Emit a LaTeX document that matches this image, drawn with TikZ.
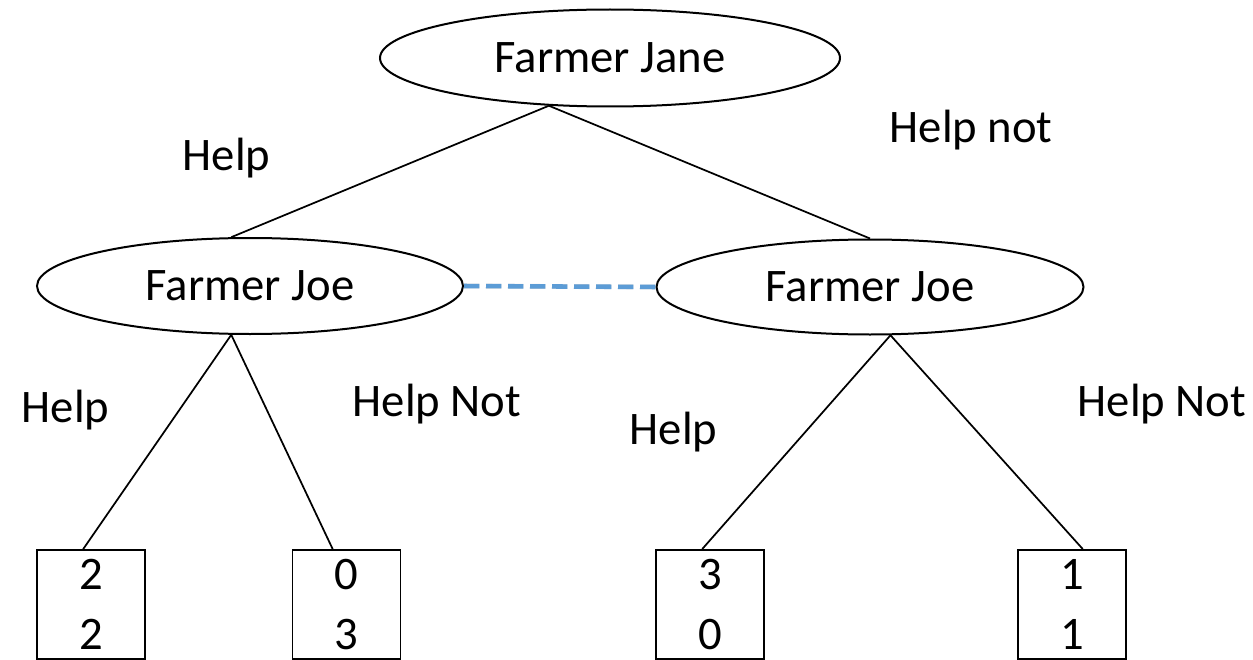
\documentclass[tikz,border=0pt]{standalone}
\usepackage{fontspec}
\setmainfont{Carlito}
\usetikzlibrary{shapes.geometric}

\definecolor{infoblue}{rgb}{0.36,0.61,0.84}

\begin{document}
\begin{tikzpicture}[x=0.75pt,y=0.75pt,yscale=-1,xscale=1,
  every node/.style={font=\fontsize{35}{45}\selectfont},
  player/.style={draw,ellipse,line width=1.5pt,inner sep=0pt},
  payoff/.style={draw,rectangle,line width=1.4pt,minimum width=81pt,minimum height=81.75pt,align=center,inner sep=0pt},
  branch/.style={line width=1.3pt}]
\useasboundingbox (0,0) rectangle (1253,660);

%Shape: Ellipse [id:fj] 
\node [player,minimum width=345pt,minimum height=72.75pt] (fj) at (610,58) {Farmer Jane};
%Shape: Ellipse [id:jl] 
\node [player,minimum width=319.5pt,minimum height=72pt] (jl) at (250,286) {Farmer Joe};
%Shape: Ellipse [id:jr] 
\node [player,minimum width=320.25pt,minimum height=71.25pt] (jr) at (870,287) {Farmer Joe};

%Shape: Rectangle [id:b1] 
\node [payoff] (b1) at (91,604.5) {2\\2};
%Shape: Rectangle [id:b2] 
\node [payoff] (b2) at (346.5,604.5) {0\\3};
%Shape: Rectangle [id:b3] 
\node [payoff] (b3) at (710,604.5) {3\\0};
%Shape: Rectangle [id:b4] 
\node [payoff] (b4) at (1072,604.5) {1\\1};

%Straight Lines [id:jane-help] 
\draw [branch] (fj.-142) -- (jl.111) ;
%Straight Lines [id:jane-helpnot] 
\draw [branch] (fj.-142) -- (jr.north) ;
%Straight Lines [id:joe-left] 
\draw [branch] (jl.-111) -- (b1.98) ;
\draw [branch] (jl.-111) -- (b2.104) ;
%Straight Lines [id:joe-right] 
\draw [branch] (jr.-67) -- (b3.98) ;
\draw [branch] (jr.-67) -- (b4.79) ;

%Information set 
\draw [black!30,opacity=0.5,line width=3.6pt,dash pattern=on 11.5pt off 5pt,yshift=-2pt] (jl.east) -- (jr.west) ;
\draw [infoblue,line width=3.4pt,dash pattern=on 11.5pt off 5pt] (jl.east) -- (jr.west) ;

% Text Node
\node [anchor=west] (l1) at (178,158) {Help};
% Text Node
\node [anchor=west] (l2) at (885,130) {Help not};
% Text Node
\node [anchor=west] (l3) at (17,410) {Help};
% Text Node
\node [anchor=west] (l4) at (348,404) {Help Not};
% Text Node
\node [anchor=west] (l5) at (625,432) {Help};
% Text Node
\node [anchor=west] (l6) at (1073,404) {Help Not};

\end{tikzpicture}
\end{document}
